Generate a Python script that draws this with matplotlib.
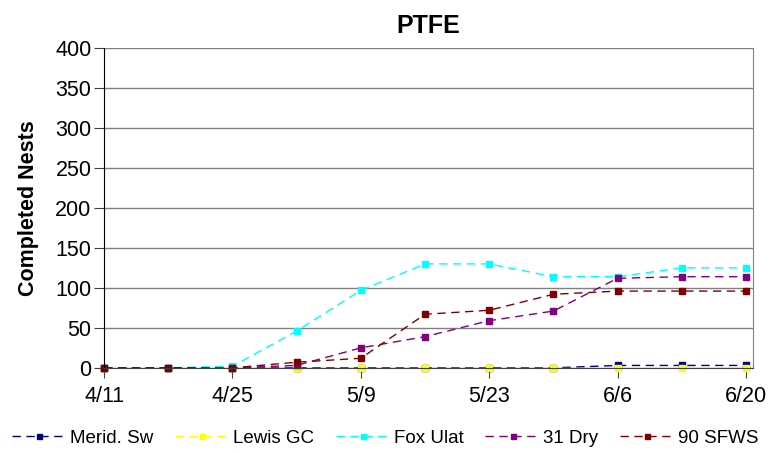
import matplotlib.pyplot as plt

plt.rcParams['font.family'] = ['Liberation Sans', 'DejaVu Sans']

# weekly survey dates (days after 4/11)
days = [0, 7, 14, 21, 28, 35, 42, 49, 56, 63, 70]
tick_days = [0, 14, 28, 42, 56, 70]
tick_labels = ['4/11', '4/25', '5/9', '5/23', '6/6', '6/20']

merid_sw = [0, 0, 0, 0, 0, 0, 0, 0, 3, 3, 3]
lewis_gc = [0, 0, 0, 0, 0, 0, 0, 0, 0, 0, 0]
fox_ulat = [0, 0, 2, 46, 97, 130, 130, 114, 114, 125, 125]
dry_31 = [0, 0, 0, 3, 25, 39, 59, 71, 112, 114, 114]
sfws_90 = [0, 0, 0, 7, 12, 67, 72, 92, 96, 96, 96]

fig = plt.figure(figsize=(7.71, 4.53), dpi=100)
ax = fig.add_axes([0.135, 0.188, 0.842, 0.706])

series = [
    ('Merid. Sw', merid_sw, '#000080'),
    ('Lewis GC', lewis_gc, '#FFFF00'),
    ('Fox Ulat', fox_ulat, '#00FFFF'),
    ('31 Dry', dry_31, '#800080'),
    ('90 SFWS', sfws_90, '#800000'),
]
for name, vals, col in series:
    ax.plot(days, vals, color=col, linestyle=(0, (6, 4)), linewidth=1,
            marker='s', markersize=4.5, label=name, clip_on=False)

ax.set_xlim(0, 70.8)
ax.set_ylim(0, 400)
ax.set_yticks(range(0, 401, 50))
ax.set_xticks(tick_days)
ax.set_xticklabels(tick_labels)
ax.grid(axis='y', color='#808080', linewidth=1)
ax.set_axisbelow(True)

ax.spines['top'].set_visible(False)
ax.spines['right'].set_color('#808080')
ax.spines['left'].set_color('black')
ax.spines['bottom'].set_color('#404040')
ax.tick_params(axis='both', labelsize=15.5, length=7, direction='out', color='#404040')
ax.tick_params(axis='x', pad=6)
ax.tick_params(axis='y', pad=2)

ax.set_title('PTFE', fontsize=18, fontweight='bold', pad=11)
ax.set_ylabel('Completed Nests', fontsize=15.5, fontweight='bold', labelpad=12)

fig.legend(loc='center', ncol=5, frameon=False, fontsize=13.5,
           bbox_to_anchor=(0.5, 0.033), handlelength=2.9, columnspacing=1.15,
           handletextpad=0.2, markerscale=0.8)

fig.savefig('out.png', dpi=100)
